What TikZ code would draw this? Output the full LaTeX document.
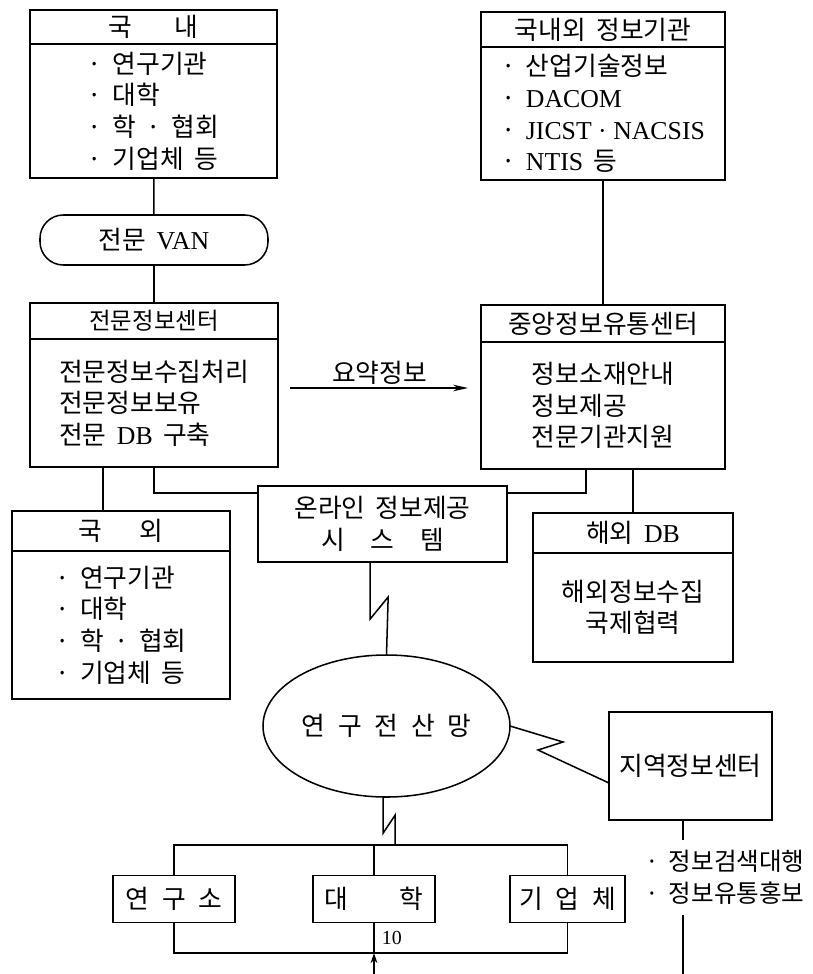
\documentclass[tikz,border=0pt]{standalone}
\usepackage{fontspec}
\setmainfont{Noto Sans CJK KR}[WordSpace=1.8]
\newfontfamily\latinrm{Liberation Serif}
\usetikzlibrary{arrows.meta, positioning, shapes.geometric}

\begin{document}
\begin{tikzpicture}[
  x=0.03cm, y=-0.03cm, line width=1.3pt,
  box/.style={draw, rectangle, inner sep=0pt, outer sep=0pt,
    font=\fontsize{22}{27}\selectfont, align=left},
  titlebox/.style={box, minimum width=#1, minimum height=1.1cm},
  listbox/.style={box, minimum width=#1},
  unit/.style={box, minimum height=1.42cm},
  bigtip/.style={-{Stealth[length=0.45cm, width=0.2cm]}},
  smalltip/.style={-{Stealth[length=0.3cm, width=0.2cm]}}
]
  \useasboundingbox (0,0) rectangle (813,974);

  % Domestic sources
  \node[titlebox=7.41cm, minimum height=1.02cm] (dom-h) at (153.5, 27)
    {국\hspace{1.65em}내};
  \node[listbox=7.41cm, minimum height=4.02cm, below=0pt of dom-h] (dom-b)
    {· 연구기관\\· 대학\\· 학 · 협회\\· 기업체 등};

  % VAN
  \node[box, rounded corners=0.7cm, minimum width=6.84cm, minimum height=1.5cm]
    (van) at (154, 240) {전문 {\latinrm VAN}};

  % Specialised centre
  \node[titlebox=7.44cm, minimum height=1.08cm, font=\fontsize{20}{24}\selectfont]
    (spec-h) at (154, 321) {전문정보센터};
  \node[listbox=7.44cm, minimum height=3.84cm, below=0pt of spec-h] (spec-b)
    {전문정보수집처리\\전문정보보유\\전문 {\latinrm DB} 구축};

  % Information agencies
  \node[titlebox=7.32cm, minimum height=1.05cm] (org-h) at (603, 29.5)
    {국내외 정보기관};
  \node[listbox=7.32cm, minimum height=3.99cm, below=0pt of org-h] (org-b)
    {· 산업기술정보\\· {\latinrm DACOM}\\· {\latinrm JICST · NACSIS}\\· {\latinrm NTIS} 등};

  % Central centre
  \node[titlebox=7.32cm, minimum height=1.11cm] (cen-h) at (603, 323.5)
    {중앙정보유통센터};
  \node[listbox=7.32cm, minimum height=3.81cm, below=0pt of cen-h] (cen-b)
    {정보소재안내\\정보제공\\전문기관지원};

  % Overseas sources
  \node[titlebox=6.54cm, minimum height=1.2cm] (abr-h) at (121, 531)
    {국\hspace{1.45em}외};
  \node[listbox=6.54cm, minimum height=4.44cm, below=0pt of abr-h] (abr-b)
    {· 연구기관\\· 대학\\· 학 · 협회\\· 기업체 등};

  % Overseas DB
  \node[titlebox=6cm, minimum height=1.2cm] (ovs-h) at (633, 533)
    {해외 {\latinrm DB}};
  \node[listbox=6cm, minimum height=3.27cm, below=0pt of ovs-h, align=center]
    (ovs-b) {해외정보수집\\국제협력};

  % Online system
  \node[box, minimum width=7.47cm, minimum height=2.28cm, align=center]
    (onl) at (382.5, 524) {온라인 정보제공\\시\hspace{1em}스\hspace{1em}템};

  % Research network
  \node[box, ellipse, minimum width=7.41cm, minimum height=4.26cm]
    (net) at (386.5, 726) {연\enspace 구\enspace 전\enspace 산\enspace 망};

  % Regional centre
  \node[box, minimum width=4.89cm, minimum height=3.24cm] (reg) at (690.5, 766)
    {지역정보센터};
  \node[font=\fontsize{21}{27}\selectfont, align=left, inner sep=0.28cm, anchor=west]
    (svc) at (635, 877.5) {· 정보검색대행\\· 정보유통홍보};

  % Users
  \foreach \n/\x/\w/\t in {ins/174/3.66cm/{연\enspace 구\enspace 소},
      uni/374/3.66cm/{대\hspace{2em}학}, cor/567.5/3.45cm/{기\enspace 업\enspace 체}} {
    \node[unit, minimum width=\w] (\n) at (\x, 899) {\t};
  }
  \coordinate (bus) at (0, 845);
  \coordinate (busb) at (0, 953);
  \coordinate (edge) at (0, 974);

  % Connections
  \draw (dom-b) -- (van);
  \draw (van) -- (spec-h);
  \draw (org-b) -- (cen-h);
  \draw (ovs-h.north) -- (ovs-h.north |- cen-b.south);
  \draw ([xshift=-0.54cm]abr-h.north) -- ([xshift=-0.54cm]abr-h.north |- spec-b.south);
  \draw (spec-b.south) |- ([yshift=0.93cm]onl.west);
  \draw ([xshift=-0.51cm]cen-b.south) |- ([yshift=0.93cm]onl.east);

  % Summary flow
  \draw[bigtip, shorten <=0.36cm, shorten >=0.39cm] ([yshift=0.45cm]spec-b.east)
    -- node[above, inner sep=2pt, font=\fontsize{22}{24}\selectfont] (sum) {요약정보}
    ([yshift=0.45cm]spec-b.east -| cen-b.west);

  % Network links
  \draw ([xshift=-0.37cm]onl.south) -- ++(0,57) -- ++(18,-22) -- (net.north);
  \draw (net.east) -- ++(53,16) -- ++(-25,8) -- ([yshift=-0.51cm]reg.west);
  \draw ([xshift=-0.1cm]net.south) -- ++(0,36) -- ++(12,-18) -- ++(0,30);
  \draw ([xshift=-0.22cm]reg.south) -- ([xshift=-0.22cm]reg.south |- svc.north);
  \draw ([xshift=-0.22cm]reg.south |- svc.south) -- ([xshift=-0.22cm]reg.south |- edge);

  % Bus lines
  \draw (ins.north) |- (bus -| cor.north) -- (cor.north);
  \draw (uni.north) -- (uni.north |- bus);
  \draw (ins.south) |- (busb -| cor.south) -- (cor.south);
  \draw (uni.south) -- node[right, inner sep=6pt, font=\latinrm\fontsize{17}{18}\selectfont]
    (pg) {10} (uni.south |- busb);
  \draw[smalltip] (uni.south |- edge) -- (uni.south |- busb);
\end{tikzpicture}
\end{document}
